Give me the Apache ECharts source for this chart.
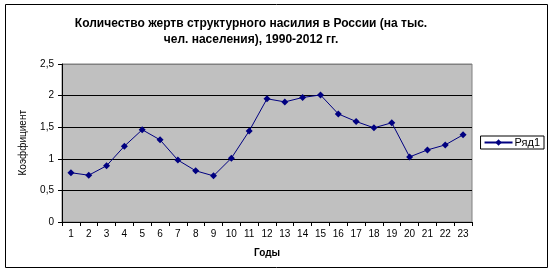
<!DOCTYPE html>
<html>
<head>
<meta charset="utf-8">
<script src="https://cdn.jsdelivr.net/npm/echarts@6/dist/echarts.min.js"></script>
<style>html,body{margin:0;padding:0;background:#fff;}#c{width:553px;height:271px;}</style>
</head>
<body>
<div id="c"></div>
<script>
const categories = ['1','2','3','4','5','6','7','8','9','10','11','12','13','14','15','16','17','18','19','20','21','22','23'];
const values = [0.78,0.74,0.89,1.2,1.46,1.30,0.98,0.81,0.73,1.01,1.44,1.95,1.90,1.97,2.01,1.71,1.59,1.49,1.57,1.03,1.14,1.22,1.38];
const seriesName = 'Ряд1';
const titleLines = ['Количество жертв структурного насилия в России (на тыс.', 'чел. населения), 1990-2012 гг.'];
const xName = 'Годы';
const yName = 'Коэффициент';

const chart = echarts.init(document.getElementById('c'));
const F = 'Arial, "Liberation Sans", sans-serif';
chart.setOption({
  animation: false,
  backgroundColor: '#fff',
  title: {
    text: titleLines.join('\n'),
    left: 246, top: 11, textAlign: 'center',
    textStyle: {fontFamily: F, fontSize: 12, fontWeight: 'bold', color: '#000', lineHeight: 16}
  },
  graphic: [
    {type: 'rect', shape: {x: 5.5, y: 4.5, width: 542, height: 263}, style: {fill: null, stroke: '#000', lineWidth: 1}, z: 100},
    {type: 'text', left: 18, top: 110, rotation: Math.PI/2, style: {text: yName, font: '10px ' + F, fill: '#000'}}
  ],
  legend: {
    data: [seriesName], right: 9, top: 136, orient: 'vertical',
    borderColor: '#000', borderWidth: 1, padding: [1, 4, 1, 3],
    itemWidth: 28, itemHeight: 8, itemGap: 2,
    textStyle: {fontFamily: F, fontSize: 11, color: '#000', padding: [0,0,0,-3]}
  },
  grid: {left: 62, top: 64, right: 81, bottom: 49, show: true, backgroundColor: '#C0C0C0', borderColor: '#808080', borderWidth: 1},
  xAxis: {
    type: 'category', data: categories, boundaryGap: true,
    name: xName, nameLocation: 'middle', nameGap: 26,
    nameTextStyle: {fontFamily: F, fontSize: 10, fontWeight: 'bold', color: '#000'},
    axisLine: {lineStyle: {color: '#000', width: 1}},
    axisTick: {show: true, length: 4, lineStyle: {color: '#000'}},
    axisLabel: {fontFamily: F, fontSize: 10, color: '#000', margin: 7, interval: 0},
    splitLine: {show: false}
  },
  yAxis: {
    type: 'value', min: 0, max: 2.5, interval: 0.5,
    axisLine: {show: true, lineStyle: {color: '#000', width: 1}},
    axisTick: {show: true, length: 4, lineStyle: {color: '#000'}},
    axisLabel: {fontFamily: F, fontSize: 10, color: '#000', margin: 8, formatter: v => String(v).replace('.', ',')},
    splitLine: {show: true, lineStyle: {color: ['#000','#000','#000','#000','#000','#808080'], width: 1}}
  },
  series: [{
    name: seriesName, type: 'line', data: values,
    symbol: 'diamond', symbolSize: 7,
    lineStyle: {color: '#000080', width: 1},
    itemStyle: {color: '#000080'}
  }]
});
</script>
</body>
</html>
